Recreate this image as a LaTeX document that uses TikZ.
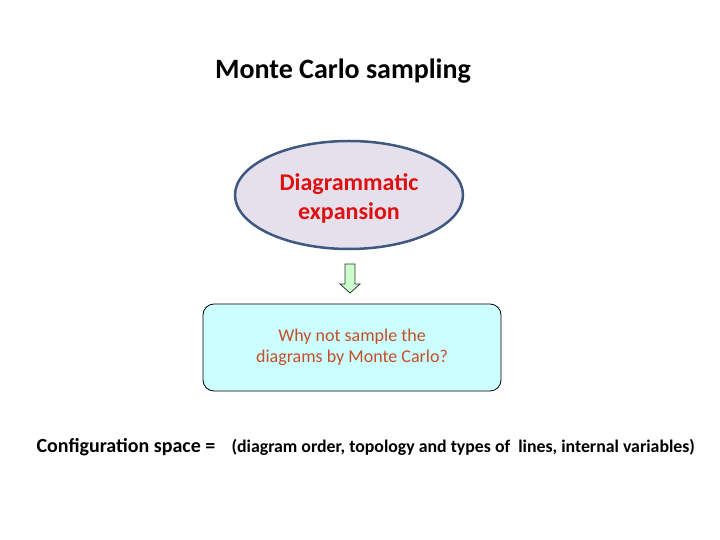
\documentclass[tikz,border=0pt]{standalone}
\usepackage{fontspec}
\setmainfont{Carlito}
\usetikzlibrary{shapes.geometric}

\definecolor{lavender}{RGB}{230,224,236}
\definecolor{edgeblue}{RGB}{63,88,128}
\definecolor{textred}{RGB}{222,16,16}
\definecolor{lightcyan}{RGB}{204,255,255}
\definecolor{textorange}{RGB}{196,78,38}
\definecolor{lightgreen}{RGB}{204,255,204}

\tikzset{
  expbox/.style = {ellipse, draw=edgeblue, line width=2.5pt, fill=lavender,
    minimum width=228pt, minimum height=108pt, inner sep=0pt,
    text=textred, align=center, font=\fontsize{24}{29}\selectfont\bfseries},
  mcbox/.style = {rectangle, rounded corners=11pt, draw=black, line width=0.8pt,
    fill=lightcyan, minimum width=298pt, minimum height=87pt, inner sep=0pt,
    text=textorange, align=center, font=\fontsize{18}{21}\selectfont},
  blockarrow/.style = {draw=black!80, line width=0.8pt, fill=lightgreen}
}

\begin{document}
\begin{tikzpicture}[x=1pt, y=1pt]

\useasboundingbox (0,0) rectangle (720,540);

\node[font=\fontsize{28}{30}\selectfont\bfseries] (title) at (343,469) {Monte Carlo sampling};

\node[expbox] (expansion) at (349,345) {\\[-6pt]Diagrammatic\\expansion};
\node[mcbox] (question) at (352,192.5) {Why not sample the\\diagrams by Monte Carlo?};

% block arrow between the two boxes
\draw[blockarrow] (345,276) -- (355,276) -- (355,256) -- (360,256) -- (350,247)
  -- (340,256) -- (345,256) -- cycle;

\node[anchor=base west, font=\fontsize{20}{22}\selectfont\bfseries] (config) at (33,87) {Configuration space =};
\node[anchor=base west, font=\fontsize{17.8}{20}\selectfont\bfseries] (tuple) at (228,87)
  {(diagram order, topology and types of\ \ lines, internal variables)};

\end{tikzpicture}
\end{document}
